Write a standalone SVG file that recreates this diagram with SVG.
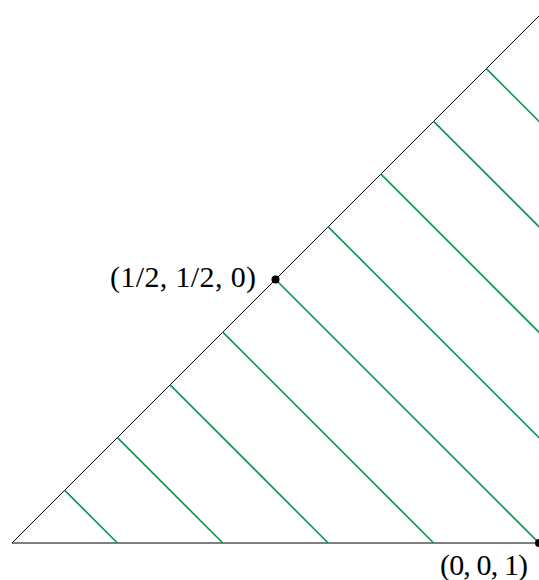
<svg xmlns="http://www.w3.org/2000/svg" width="539" height="580" viewBox="0 0 539 580">
<style>
.edge{stroke:#000;stroke-width:1;fill:none}
.hatch{stroke:#0a9a55;stroke-width:1.7;fill:none}
.lbl{font-family:"Liberation Serif","Times New Roman",serif;font-size:30px;fill:#000}
</style>
<rect width="539" height="580" fill="#fff"/>
<g id="connectors">
<line class="edge" x1="12" y1="543" x2="570" y2="-15"/>
<line class="edge" x1="12" y1="543" x2="570" y2="543"/>
<line class="hatch" x1="64.7" y1="490.3" x2="117.4" y2="543"/>
<line class="hatch" x1="117.4" y1="437.6" x2="222.8" y2="543"/>
<line class="hatch" x1="170.1" y1="384.9" x2="328.2" y2="543"/>
<line class="hatch" x1="222.8" y1="332.2" x2="433.6" y2="543"/>
<line class="hatch" x1="275.5" y1="279.5" x2="539" y2="543"/>
<line class="hatch" x1="328.2" y1="226.8" x2="644.4" y2="543"/>
<line class="hatch" x1="380.9" y1="174.1" x2="749.8" y2="543"/>
<line class="hatch" x1="433.6" y1="121.4" x2="855.2" y2="543"/>
<line class="hatch" x1="486.3" y1="68.7" x2="960.6" y2="543"/>
</g>
<g id="p1">
<circle cx="275.5" cy="279.5" r="4" fill="#000"/>
<text class="lbl" x="110" y="287" textLength="146" lengthAdjust="spacing">(1/2, 1/2, 0)</text>
</g>
<g id="p2">
<circle cx="539" cy="543" r="4" fill="#000"/>
<text class="lbl" x="440" y="575" textLength="88" lengthAdjust="spacing">(0, 0, 1)</text>
</g>
</svg>
